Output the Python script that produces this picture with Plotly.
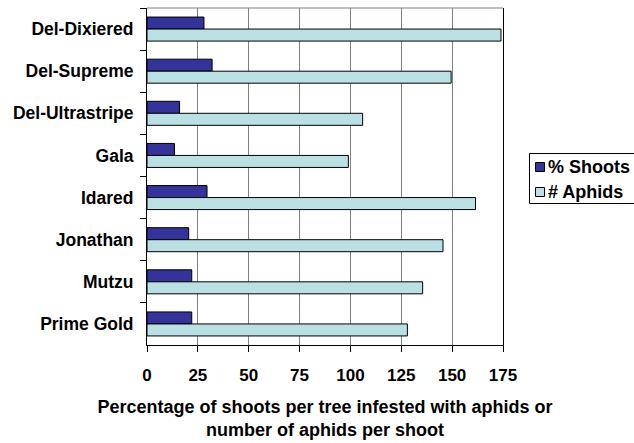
import plotly.graph_objects as go

# Apple cultivars, top to bottom
cultivars = ["Del-Dixiered", "Del-Supreme", "Del-Ultrastripe", "Gala",
             "Idared", "Jonathan", "Mutzu", "Prime Gold"]
# Percentage of shoots per tree infested with aphids
pct_shoots = [28, 32, 16, 13.5, 29.5, 20.5, 22, 22]
# Number of aphids per shoot
num_aphids = [174, 149.5, 106, 99, 161.5, 145.5, 135.5, 128]

series_names = ["% Shoots", "# Aphids"]
series_colors = ["#333399", "#BBE0E3"]

x_ticks = [0, 25, 50, 75, 100, 125, 150, 175]

FONT = "Liberation Sans, Arial, sans-serif"
W, H = 634, 443
M_L, M_R, M_T, M_B = 147, 131, 8, 98
PLOT_W = W - M_L - M_R
PLOT_H = H - M_T - M_B


def px_x(px):
    """Pixel column -> paper x."""
    return (px - M_L) / PLOT_W


def px_y(py):
    """Pixel row -> paper y."""
    return (H - M_B - py) / PLOT_H


fig = go.Figure()
for name, color, values in zip(series_names, series_colors, [pct_shoots, num_aphids]):
    fig.add_trace(go.Bar(
        y=cultivars, x=values, orientation="h", name=name, showlegend=False,
        marker=dict(color=color, line=dict(color="#000000", width=1)),
    ))

# Legend box at the right, partly running off the edge
shapes = [
    dict(type="line", xref="paper", yref="paper", x0=0, x1=1, y0=1, y1=1,
         line=dict(color="#808080", width=1)),
    dict(type="rect", xref="paper", yref="paper",
         x0=px_x(529.5), x1=px_x(645), y0=px_y(203.5), y1=px_y(153.5),
         line=dict(color="#000000", width=1), fillcolor="white"),
]
annotations = []
for i, (name, color) in enumerate(zip(series_names, series_colors)):
    cy = 167 + 25 * i
    shapes.append(dict(
        type="rect", xref="paper", yref="paper",
        x0=px_x(535.5), x1=px_x(544.5), y0=px_y(cy + 4.5), y1=px_y(cy - 4.5),
        line=dict(color="#000000", width=1), fillcolor=color,
    ))
    annotations.append(dict(
        xref="paper", yref="paper", x=px_x(546), y=px_y(cy),
        xanchor="left", yanchor="middle", showarrow=False, text=name,
        font=dict(family=FONT, size=18, color="#000000", weight="bold"),
    ))

fig.update_layout(
    width=W, height=H,
    margin=dict(l=M_L, r=M_R, t=M_T, b=M_B, pad=0),
    paper_bgcolor="white", plot_bgcolor="white",
    barmode="group", bargap=0.43, bargroupgap=0,
    font=dict(family=FONT, size=17, color="#000000", weight="bold"),
    showlegend=False,
    xaxis=dict(
        range=[0, 175], tickvals=x_ticks, ticktext=[str(v) for v in x_ticks],
        showgrid=True, gridcolor="#808080", gridwidth=1,
        showline=True, linecolor="#000000", linewidth=1,
        ticks="outside", ticklen=6, tickcolor="#000000",
        zeroline=False, ticklabelstandoff=9,
        tickfont=dict(family=FONT, size=17, weight="bold"),
        title=dict(
            text="Percentage of shoots per tree infested with aphids or<br>number of aphids per shoot",
            font=dict(family=FONT, size=18, weight="bold"), standoff=15,
        ),
    ),
    yaxis=dict(
        autorange="reversed", type="category",
        showline=True, linecolor="#000000", linewidth=1, mirror=True,
        ticks="outside", ticklen=6, tickcolor="#000000", tickson="boundaries",
        showgrid=False, ticklabelstandoff=9,
        tickfont=dict(family=FONT, size=17.5, weight="bold"),
    ),
    shapes=shapes,
    annotations=annotations,
)

fig.write_html("out.html")
